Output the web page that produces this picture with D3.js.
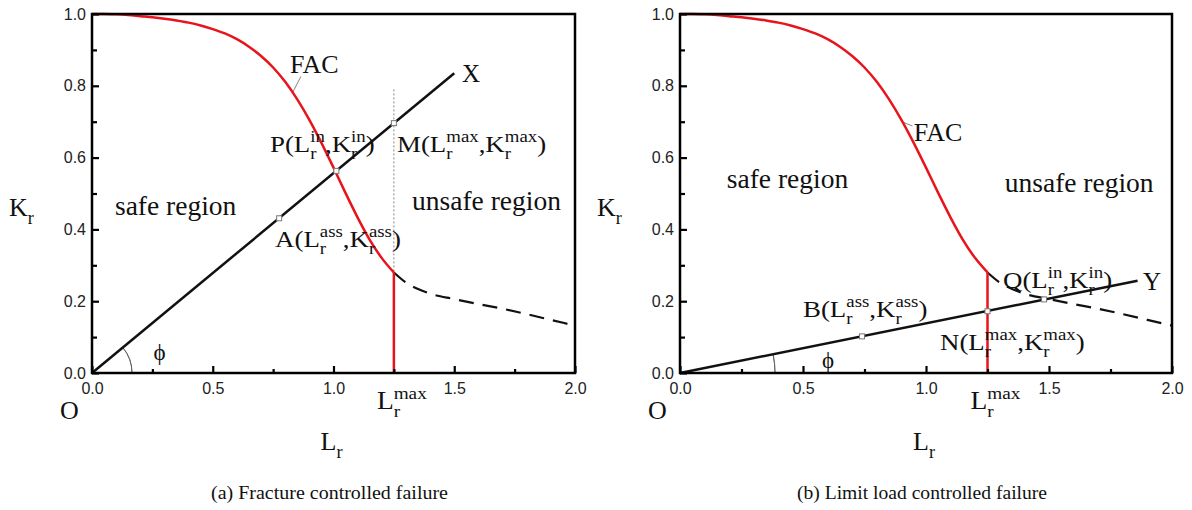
<!DOCTYPE html>
<html>
<head>
<meta charset="utf-8">
<script src="https://cdn.jsdelivr.net/npm/d3@7"></script>
<style>
  body { margin: 0; background: #fff; }
  svg { display: block; }
</style>
</head>
<body>
<div id="chart"></div>
<script>
// failure assessment curve
var facLr = [0, 0.05, 0.1, 0.15, 0.2, 0.25, 0.3, 0.35, 0.4, 0.45, 0.5, 0.55, 0.6, 0.65, 0.7, 0.75, 0.8, 0.85, 0.9, 0.95, 1.0, 1.05, 1.1, 1.15, 1.2, 1.25];
var facKr = [1.000, 1.000, 0.999, 0.997, 0.994, 0.991, 0.987, 0.982, 0.976, 0.968, 0.958, 0.946, 0.930, 0.909, 0.883, 0.851, 0.811, 0.762, 0.705, 0.641, 0.572, 0.501, 0.433, 0.371, 0.320, 0.280];
// dashed part beyond Lr max
var tailLr = [1.25, 1.3, 1.35, 1.4, 1.5, 1.6, 1.7, 1.8, 1.9, 2.0];
var tailKr = [0.280, 0.252, 0.234, 0.221, 0.206, 0.192, 0.179, 0.164, 0.148, 0.132];
var lrMax = 1.25;
var krAtMax = 0.280;
var dotTopKr = 0.79;

var xTicks = [0, 0.5, 1.0, 1.5, 2.0];
var yTicks = [0, 0.2, 0.4, 0.6, 0.8, 1.0];

// load lines OX and OY
var lineALr = [0, 1.5];
var lineAKr = [0, 0.835];
var lineBLr = [0, 1.86];
var lineBKr = [0, 0.257];

// assessment points
var ptsALr = [0.775, 1.012, 1.25];
var ptsAKr = [0.431, 0.563, 0.696];
var ptsBLr = [0.74, 1.25, 1.48];
var ptsBKr = [0.102, 0.172, 0.205];

var captions = ["(a) Fracture controlled failure", "(b) Limit load controlled failure"];

var w = 1192, h = 510;
var serif = "'Liberation Serif', 'Times New Roman', serif";
var sans = "'Liberation Sans', Arial, sans-serif";

var svg = d3.select("#chart").append("svg")
    .attr("width", w)
    .attr("height", h);

// text with stacked sub/superscripts, optional horizontal stretch
function rich(g, x, y, tokens, size, sx) {
    var wrap = g.append("g").attr("transform", "translate(" + x + "," + y + ") scale(" + (sx || 1) + ",1)");
    var cx = 0;
    var ss = size * 0.7;
    tokens.forEach(function(tk) {
        if (typeof tk === "string") {
            var s = wrap.append("text").attr("x", cx).attr("y", 0).text(tk)
                .style("font-family", serif).style("font-size", size + "px").attr("fill", "#111");
            cx += s.node().getComputedTextLength();
        } else {
            var a = wrap.append("text").attr("x", cx).attr("y", size * 0.3).text(tk.sub)
                .style("font-family", serif).style("font-size", ss + "px").attr("fill", "#111");
            var b = wrap.append("text").attr("x", cx).attr("y", -size * 0.4).text(tk.sup)
                .style("font-family", serif).style("font-size", ss + "px").attr("fill", "#111");
            cx += Math.max(a.node().getComputedTextLength(), b.node().getComputedTextLength());
        }
    });
}

function drawPanel(cfg) {
    var x = d3.scaleLinear().domain([0, 2]).range([cfg.left, cfg.right]);
    var y = d3.scaleLinear().domain([0, 1]).range([373, 14]);
    var g = svg.append("g");

    // angle phi
    var ang = Math.atan((y(0) - y(cfg.lineKr[1])) / (x(cfg.lineLr[1]) - x(0)));
    g.append("path")
        .attr("transform", "translate(" + x(0) + "," + y(0) + ")")
        .attr("d", d3.arc().innerRadius(cfg.arcR).outerRadius(cfg.arcR)
            .startAngle(Math.PI / 2 - ang).endAngle(Math.PI / 2)())
        .attr("fill", "none").attr("stroke", "#555").attr("stroke-width", 0.8);

    // dotted guide at Lr max
    if (cfg.dotted) {
        g.append("line")
            .attr("x1", x(lrMax)).attr("x2", x(lrMax))
            .attr("y1", y(dotTopKr)).attr("y2", y(krAtMax))
            .attr("stroke", "#777").attr("stroke-width", 0.9).attr("stroke-dasharray", "2,2");
    }

    // leader for FAC label
    g.append("line")
        .attr("x1", x(cfg.facLead[0])).attr("y1", y(cfg.facLead[1]))
        .attr("x2", x(cfg.facLead[2])).attr("y2", y(cfg.facLead[3]))
        .attr("stroke", "#666").attr("stroke-width", 0.8);

    var line = d3.line().x(function(d) { return x(d[0]); }).y(function(d) { return y(d[1]); });

    // dashed tail
    g.append("path")
        .datum(d3.zip(tailLr, tailKr))
        .attr("d", line.curve(d3.curveMonotoneX))
        .attr("fill", "none").attr("stroke", "#111").attr("stroke-width", 2.2)
        .attr("stroke-dasharray", "15,9");

    // load line
    g.append("path")
        .datum(d3.zip(cfg.lineLr, cfg.lineKr))
        .attr("d", line.curve(d3.curveLinear))
        .attr("fill", "none").attr("stroke", "#111").attr("stroke-width", 2.5);

    // FAC curve
    g.append("path")
        .datum(d3.zip(facLr, facKr))
        .attr("d", line.curve(d3.curveMonotoneX))
        .attr("fill", "none").attr("stroke", "#e8141c").attr("stroke-width", 2.5);
    g.append("line")
        .attr("x1", x(lrMax)).attr("x2", x(lrMax))
        .attr("y1", y(krAtMax)).attr("y2", y(0))
        .attr("stroke", "#e8141c").attr("stroke-width", 2.5);

    // assessment points
    g.selectAll("rect.pt")
        .data(d3.zip(cfg.ptsLr, cfg.ptsKr))
        .enter().append("rect")
        .attr("class", "pt")
        .attr("x", function(d) { return x(d[0]) - 2.5; })
        .attr("y", function(d) { return y(d[1]) - 2.5; })
        .attr("width", 5).attr("height", 5)
        .attr("fill", "#fff").attr("stroke", "#777").attr("stroke-width", 1);

    // frame and ticks
    g.append("rect")
        .attr("x", x(0)).attr("y", y(1))
        .attr("width", x(2) - x(0)).attr("height", y(0) - y(1))
        .attr("fill", "none").attr("stroke", "#000").attr("stroke-width", 2.5);

    var xa = g.append("g").attr("transform", "translate(0," + y(0) + ")")
        .call(d3.axisBottom(x).tickValues(d3.range(0, 2.01, 0.25)).tickSize(0).tickFormat(""));
    xa.select(".domain").remove();
    xa.selectAll(".tick line").attr("y2", function(d) { return (Math.round(d * 4) % 2 === 0) ? -7 : -4; })
        .attr("stroke", "#000").attr("stroke-width", 2.2);
    var xl = g.append("g").attr("transform", "translate(0," + y(0) + ")")
        .call(d3.axisBottom(x).tickValues(xTicks).tickSize(0).tickPadding(10).tickFormat(d3.format(".1f")));
    xl.select(".domain").remove();
    xl.selectAll("text").style("font-family", sans).style("font-size", "16px").attr("fill", "#222");

    var ya = g.append("g").attr("transform", "translate(" + x(0) + ",0)")
        .call(d3.axisLeft(y).tickValues(d3.range(0, 1.001, 0.1)).tickSize(0).tickFormat(""));
    ya.select(".domain").remove();
    ya.selectAll(".tick line").attr("x2", function(d) { return (Math.round(d * 10) % 2 === 0) ? 7 : 5; })
        .attr("stroke", "#000").attr("stroke-width", 2.2);
    var yl = g.append("g").attr("transform", "translate(" + x(0) + ",0)")
        .call(d3.axisLeft(y).tickValues(yTicks).tickSize(0).tickPadding(6).tickFormat(d3.format(".1f")));
    yl.select(".domain").remove();
    yl.selectAll("text").style("font-family", sans).style("font-size", "16px").attr("fill", "#222");

    // texts
    var T = function(s, lx, ly, size) {
        g.append("text").attr("x", x(lx)).attr("y", y(ly)).text(s)
            .style("font-family", serif).style("font-size", size + "px").attr("fill", "#111");
    };
    T("safe region", cfg.safe[0], cfg.safe[1], 27.5);
    T("unsafe region", cfg.unsafe[0], cfg.unsafe[1], 27.5);
    T("FAC", cfg.fac[0], cfg.fac[1], 26);
    T(cfg.end, cfg.endPos[0], cfg.endPos[1], 25);
    T("\u03d5", cfg.phi[0], cfg.phi[1], 23);
    cfg.ptLabels.forEach(function(p) {
        rich(g, x(p.at[0]), y(p.at[1]), [p.n + "(L", { sub: "r", sup: p.s }, ",K", { sub: "r", sup: p.s }, ")"], 24, 1.12);
    });
    rich(g, x(lrMax) - 17, 409, ["L", { sub: "r", sup: "max" }], 25, 1.1);
    rich(g, x(0) - 32, 419, ["O"], 26);
    rich(g, (x(0) + x(2)) / 2 - 13, 450, ["L", { sub: "r", sup: "" }], 26);
    rich(g, cfg.left - 83, 216, ["K", { sub: "r", sup: "" }], 26);

    svg.append("text")
        .attr("x", (x(0) + x(2)) / 2 - 4).attr("y", 499)
        .attr("text-anchor", "middle")
        .attr("textLength", cfg.capLen).attr("lengthAdjust", "spacingAndGlyphs")
        .text(cfg.caption)
        .style("font-family", serif).style("font-size", "19px").attr("fill", "#111");
}

drawPanel({
    left: 92, right: 575,
    lineLr: lineALr, lineKr: lineAKr,
    ptsLr: ptsALr, ptsKr: ptsAKr,
    dotted: true, arcR: 40,
    facLead: [0.865, 0.826, 0.83, 0.78],
    safe: [0.095, 0.44], unsafe: [1.325, 0.454],
    fac: [0.82, 0.836], end: "X", endPos: [1.532, 0.81],
    phi: [0.255, 0.036],
    ptLabels: [
        { n: "P", s: "in", at: [0.737, 0.616] },
        { n: "M", s: "max", at: [1.263, 0.616] },
        { n: "A", s: "ass", at: [0.758, 0.351] }
    ],
    caption: captions[0], capLen: 237
});

drawPanel({
    left: 680, right: 1172,
    lineLr: lineBLr, lineKr: lineBKr,
    ptsLr: ptsBLr, ptsKr: ptsBKr,
    dotted: false, arcR: 95,
    facLead: [0.945, 0.688, 0.905, 0.699],
    safe: [0.19, 0.515], unsafe: [1.32, 0.504],
    fac: [0.95, 0.645], end: "Y", endPos: [1.882, 0.231],
    phi: [0.577, 0.014],
    ptLabels: [
        { n: "Q", s: "in", at: [1.313, 0.237] },
        { n: "B", s: "ass", at: [0.5, 0.156] },
        { n: "N", s: "max", at: [1.057, 0.064] }
    ],
    caption: captions[1], capLen: 250
});
</script>
</body>
</html>
